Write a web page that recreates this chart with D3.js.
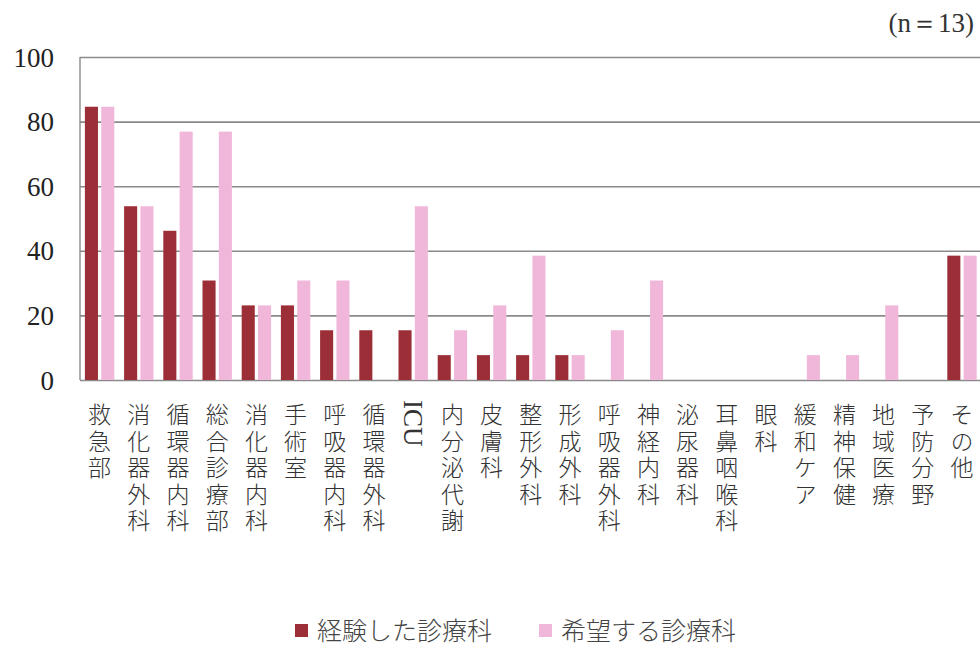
<!DOCTYPE html>
<html>
<head>
<meta charset="utf-8">
<script src="https://cdn.jsdelivr.net/npm/d3@7"></script>
<style>
  body { margin: 0; background: #fff; }
  svg { display: block; }
</style>
</head>
<body>
<svg id="chart" width="980" height="648"></svg>
<script>
// Departments (x categories)
const categories = [
  "救急部", "消化器外科", "循環器内科", "総合診療部", "消化器内科", "手術室",
  "呼吸器内科", "循環器外科", "ICU", "内分泌代謝", "皮膚科", "整形外科",
  "形成外科", "呼吸器外科", "神経内科", "泌尿器科", "耳鼻咽喉科", "眼科",
  "緩和ケア", "精神保健", "地域医療", "予防分野", "その他"
];
// Percentage of respondents (n=13)
const experienced = [84.6, 53.8, 46.2, 30.8, 23.1, 23.1, 15.4, 15.4, 15.4, 7.7, 7.7, 7.7, 7.7, 0, 0, 0, 0, 0, 0, 0, 0, 0, 38.5];
const desired     = [84.6, 53.8, 76.9, 76.9, 23.1, 30.8, 30.8, 0, 53.8, 15.4, 23.1, 38.5, 7.7, 15.4, 30.8, 0, 0, 0, 7.7, 7.7, 23.1, 0, 38.5];
const seriesNames = ["経験した診療科", "希望する診療科"];
const yTicks = [0, 20, 40, 60, 80, 100];
const noteText = "(n＝13)";

const colors = ["#9c2e37", "#f1b7da"];
const serif = "'Liberation Serif', 'DejaVu Serif', serif";
const cjk = "'Noto Sans CJK JP', 'Noto Sans', sans-serif";

const svg = d3.select("#chart");
const plot = { left: 80, top: 57, bottom: 380, right: 981.6 };

const x0 = d3.scaleBand().domain(categories).range([plot.left, plot.right]).padding(0);
const x1 = d3.scaleBand().domain([0, 1]).range([0, x0.bandwidth()]).paddingInner(0.2).paddingOuter(0.3);
const y = d3.scaleLinear().domain([0, 100]).range([plot.bottom, plot.top]);

// Horizontal gridlines with y tick labels
const yAxis = d3.axisLeft(y).tickValues(yTicks).tickSize(-(plot.right - plot.left)).tickPadding(26);
const gy = svg.append("g").attr("transform", `translate(${plot.left},0)`).call(yAxis);
gy.select(".domain").remove();
gy.selectAll(".tick line").attr("stroke", "#8a8a8a").attr("stroke-width", 1.6);
gy.selectAll(".tick text")
  .attr("font-family", serif).attr("font-size", 27).attr("fill", "#222")
  .attr("dy", "0.34em");

// Left axis line
svg.append("line")
  .attr("x1", plot.left).attr("x2", plot.left)
  .attr("y1", y(100)).attr("y2", y(0))
  .attr("stroke", "#8a8a8a").attr("stroke-width", 1.4);

// Bars
const rows = categories.map((c, i) => ({ cat: c, vals: [experienced[i], desired[i]] }));
const groups = svg.append("g").selectAll("g").data(rows).join("g")
  .attr("transform", d => `translate(${x0(d.cat)},0)`);
groups.selectAll("rect").data(d => d.vals.map((v, k) => ({ v, k }))).join("rect")
  .attr("x", d => x1(d.k))
  .attr("width", x1.bandwidth())
  .attr("y", d => y(d.v))
  .attr("height", d => y(0) - y(d.v))
  .attr("fill", d => colors[d.k]);

// Category labels, set in vertical writing mode
const labels = svg.append("g").attr("fill", "#333");
categories.forEach(c => {
  const cx = x0(c) + x0.bandwidth() / 2;
  const latin = /^[A-Za-z]+$/.test(c);
  labels.append("text")
    .attr("x", cx).attr("y", latin ? 400 : 403)
    .style("writing-mode", "vertical-rl")
    .attr("text-anchor", "start")
    .attr("font-family", latin ? serif : cjk)
    .attr("font-weight", latin ? 400 : 300)
    .attr("font-size", latin ? 27 : 23)
    .attr("letter-spacing", latin ? 0 : 3.5)
    .text(c);
});

// Sample size note
svg.append("text")
  .attr("x", 974).attr("y", 23)
  .attr("text-anchor", "end").attr("dominant-baseline", "central")
  .attr("font-family", serif).attr("font-size", 27).attr("fill", "#333")
  .text(noteText);

// Legend
const legendPos = [295, 539];
const legend = svg.append("g");
seriesNames.forEach((name, k) => {
  legend.append("rect")
    .attr("x", legendPos[k]).attr("y", 624).attr("width", 13).attr("height", 13)
    .attr("fill", colors[k]);
  legend.append("text")
    .attr("x", legendPos[k] + 22).attr("y", 629)
    .attr("dominant-baseline", "central")
    .attr("font-family", cjk).attr("font-weight", 300).attr("font-size", 25).attr("fill", "#444")
    .text(name);
});
</script>
</body>
</html>
